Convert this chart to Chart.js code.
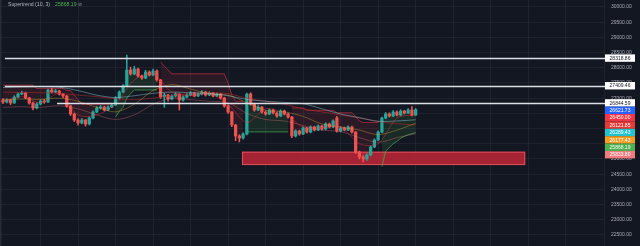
<!DOCTYPE html>
<html>
<head>
<meta charset="utf-8">
<script src="https://cdn.jsdelivr.net/npm/chart.js@4.4.1/dist/chart.umd.min.js"></script>
<style>
  html, body { margin: 0; padding: 0; background: #131722; overflow: hidden; }
  canvas { display: block; }
</style>
</head>
<body>
<canvas id="chart" width="640" height="246"></canvas>
<script>
// ---- Candles (one per bar index) ----
const opens = [
  26940,26874,26940,26841,27039,27137,27170,27006,26841,26677,
  26808,26907,26874,27269,27203,27236,27137,27072,26743,26480,
  26282,26184,26282,26151,26348,26545,26677,26710,26611,26710,
  26776,27006,27203,27401,27927,27796,27960,27730,27664,27861,
  27763,27894,27598,27039,27105,26973,27072,27137,26940,27039,
  27105,27170,27072,27137,27203,27105,27170,27072,27137,27006,
  26743,26545,26118,25756,25690,25822,27137,26808,26611,26710,
  26545,26480,26611,26513,26414,26578,26480,26381,25756,25920,
  25822,26019,25887,26052,25953,26085,25986,26151,26052,26348,
  25920,26019,25953,26052,25887,25229,25065,24999,25131,25394,
  25624,25887,26348,26480,26414,26545,26447,26578,26513,26611,
  26447
];
const highs = [
  26990,26980,26960,27080,27180,27230,27200,27030,26870,26850,
  26950,26960,27300,27330,27290,27260,27160,27090,26770,26510,
  26320,26330,26300,26380,26580,26720,26760,26740,26750,26820,
  27050,27240,27450,28421,28020,28050,27990,27760,27920,27900,
  27960,27930,27620,27160,27130,27110,27180,27150,27080,27150,
  27220,27200,27180,27250,27230,27210,27190,27170,27160,27030,
  26770,26570,26140,25800,25860,27170,27180,26840,26760,26730,
  26580,26650,26640,26540,26620,26610,26510,26400,25960,25950,
  26060,26040,26090,26080,26120,26110,26190,26180,26290,26400,
  26060,26050,26090,26080,25900,25260,25100,25170,25430,25660,
  25930,26380,26530,26520,26590,26580,26620,26600,26660,26720,
  26660
];
const lows = [
  26820,26840,26790,26830,27010,27110,26980,26800,26610,26650,
  26780,26830,26860,27170,27180,27100,27020,26700,26430,26230,
  26110,26150,26080,26120,26320,26520,26640,26580,26590,26690,
  26760,26980,27180,27380,27760,27770,27690,27620,27640,27730,
  27740,27560,26990,26700,26900,26940,27040,26610,26900,27010,
  27080,27040,27050,27110,27070,27080,27040,27050,26970,26700,
  26500,26060,25600,25560,25650,25790,26770,26570,26590,26510,
  26440,26460,26480,26370,26390,26450,26340,25700,25720,25780,
  25800,25850,25860,25920,25930,25950,25960,26020,26030,25880,
  25890,25920,25930,25850,25180,25000,24900,24950,25100,25370,
  25600,25860,26320,26380,26390,26420,26420,26480,26490,26420,
  26430
];
const closes = [
  26874,26940,26841,27039,27137,27170,27006,26841,26677,26808,
  26907,26874,27269,27203,27236,27137,27072,26743,26480,26282,
  26184,26282,26151,26348,26545,26677,26710,26611,26710,26776,
  27006,27203,27401,27927,27796,27960,27730,27664,27861,27763,
  27894,27598,27039,27105,26973,27072,27137,26940,27039,27105,
  27170,27072,27137,27203,27105,27170,27072,27137,27006,26743,
  26545,26118,25756,25690,25822,27137,26808,26611,26710,26545,
  26480,26611,26513,26414,26578,26480,26381,25756,25920,25822,
  26019,25887,26052,25953,26085,25986,26151,26052,26249,25920,
  26019,25953,26052,25887,25229,25065,24999,25131,25394,25624,
  25887,26348,26480,26414,26545,26447,26578,26513,26611,26447,
  26621.73
];

// ---- Supertrend (10, 3) per bar ----
const supertrend = [
  27430,27430,27430,27430,27430,27430,27430,27430,27430,27320,
  27320,27320,27320,27320,27320,27320,27320,27250,27250,27100,
  26950,26800,26800,26800,26800,26800,26800,26800,26800,26800,
  26380,26560,26700,27000,27150,27270,27270,27270,27270,27270,
  27270,27270,28190,28050,27930,27800,27800,27800,27800,27800,
  27800,27800,27800,27800,27800,27800,27800,27800,27800,27800,
  27500,27100,26900,26900,26900,25890,25890,25890,25890,25890,
  25890,25890,25890,25890,25890,25890,25890,26680,26680,26680,
  26680,26600,26600,26600,26600,26600,26600,26600,26600,26520,
  26520,26520,26520,26520,26400,26250,26200,26200,26200,26200,
  26200,24750,25250,25380,25500,25580,25680,25740,25800,25830,
  25868.19
];

// ---- Moving averages, sampled every 5 bars ----
const maBars   = [0,5,10,15,20,25,30,35,40,45,50,55,60,65,70,75,80,85,90,95,100,105,110];
const maFast   = [26900,27050,26850,27150,26450,26450,26800,27600,27800,27200,27080,27140,26800,26200,26650,26500,26050,26030,26050,25500,25500,26350,26450.00];
const maCyan   = [27350,27370,27380,27360,27250,27100,27020,27080,27160,27200,27180,27150,27080,26960,26900,26860,26820,26650,26480,26360,26240,26250,26289.43];
const maOrange = [26950,26970,26960,27000,26900,26700,26550,26800,27250,27450,27300,27150,27100,26850,26600,26550,26400,26150,26050,25950,25800,25950,26177.43];
const maSlow   = [27200,27190,27180,27160,27100,27050,26980,26950,27000,27080,27150,27180,27150,27000,26900,26800,26650,26550,26450,26350,26230,26160,26121.85];
const maSalmon = [26700,26720,26700,26750,26650,26450,26300,26450,26800,27000,26950,26900,26850,26500,26300,26250,26100,25950,25900,25700,25550,25700,25833.80];

// ---- Horizontal levels and demand zone ----
const levelPrices = [28318.86, 27409.46, 26844.59];
const levelFromBar = [0.5, 0.5, 14.4];
const zoneBars = [63.7, 139.2];
const zonePrices = [25240, 24800];

// ---- Right-hand price tags ----
const tagPrices = [28318.86, 27409.46, 26844.59, 26621.73, 26450.00, 26121.85, 26289.43, 26177.43, 25868.19, 25833.80];
const tagFills  = ['#ffffff','#ffffff','#ffffff','#2962ff','#f23645','#e53935','#22c3cf','#f39c22','#4caf50','#f07a7e'];

// ---- Price axis ----
const priceTicks = [22500,23000,23500,24000,24500,25000,25500,26000,26500,27000,27500,28000,28500,29000,29500,30000];
const priceMin = 22137, priceMax = 30230;
const barMin = -0.8, barMax = 160.2;

const UP = '#26a69a', DOWN = '#ef5350';
const candleColors = closes.map((c, i) => c >= opens[i] ? UP : DOWN);
const bodies = closes.map((c, i) => ({ x: i, y: [opens[i], c] }));
const wicks = closes.map((c, i) => ({ x: i, y: [lows[i], highs[i]] }));
const bodyMid = closes.map((c, i) => ({ x: i, y: (opens[i] + c) / 2 }));
const stBull = supertrend.map((v, i) => ({ x: i, y: v < closes[i] ? v : null }));
const stBear = supertrend.map((v, i) => ({ x: i, y: v > closes[i] ? v : null }));
const maPts = arr => arr.map((v, k) => ({ x: maBars[k], y: v }));

const FONT = '"Liberation Sans", Arial, sans-serif';

const background = {
  id: 'background',
  beforeDraw(chart) {
    const ctx = chart.ctx;
    ctx.save();
    ctx.fillStyle = '#131722';
    ctx.fillRect(0, 0, chart.width, chart.height);
    ctx.fillStyle = '#262a36';
    ctx.fillRect(0, 0, 1.5, chart.height);
    ctx.restore();
  }
};

const zone = {
  id: 'zone',
  beforeDatasetsDraw(chart) {
    const { ctx, scales: { x, y } } = chart;
    const x0 = x.getPixelForValue(zoneBars[0]), x1 = x.getPixelForValue(zoneBars[1]);
    const y0 = y.getPixelForValue(zonePrices[0]), y1 = y.getPixelForValue(zonePrices[1]);
    ctx.save();
    ctx.fillStyle = 'rgba(186,38,54,0.88)';
    ctx.fillRect(x0, y0, x1 - x0, y1 - y0);
    ctx.strokeStyle = 'rgba(226,84,96,0.9)';
    ctx.lineWidth = 1;
    ctx.strokeRect(x0 + 0.5, y0 + 0.5, x1 - x0 - 1, y1 - y0 - 1);
    ctx.restore();
  }
};

const levels = {
  id: 'levels',
  afterDatasetsDraw(chart) {
    const { ctx, chartArea, scales: { x, y } } = chart;
    ctx.save();
    ctx.strokeStyle = '#dcdfe6';
    ctx.lineWidth = 1.3;
    levelPrices.forEach((p, k) => {
      const py = Math.round(y.getPixelForValue(p)) + 0.5;
      ctx.beginPath();
      ctx.moveTo(x.getPixelForValue(levelFromBar[k]), py);
      ctx.lineTo(chartArea.right + 2, py);
      ctx.stroke();
    });
    ctx.restore();
  }
};

const tags = {
  id: 'tags',
  afterDraw(chart) {
    const { ctx, chartArea, scales: { y } } = chart;
    const h = 7.4, left = chartArea.right + 1, w = 30;
    let prev = -Infinity;
    ctx.save();
    ctx.font = '5px ' + FONT;
    ctx.textAlign = 'center';
    ctx.textBaseline = 'middle';
    tagPrices.forEach((p, k) => {
      let cy = y.getPixelForValue(p);
      if (cy < prev + h) cy = prev + h;
      prev = cy;
      ctx.fillStyle = tagFills[k];
      ctx.fillRect(left, cy - h / 2, w, h);
      ctx.fillStyle = tagFills[k] === '#ffffff' ? '#131722' : '#ffffff';
      ctx.fillText(p.toFixed(2), left + w / 2, cy + 0.3);
    });
    ctx.restore();
  }
};

const header = {
  id: 'header',
  afterDraw(chart) {
    const ctx = chart.ctx;
    ctx.save();
    ctx.font = '5.2px ' + FONT;
    ctx.textBaseline = 'middle';
    ctx.textAlign = 'left';
    ctx.fillStyle = '#b2b5be';
    ctx.fillText('Supertrend (10, 3)', 8, 5);
    ctx.fillStyle = '#4caf50';
    ctx.fillText(supertrend[supertrend.length - 1].toFixed(2), 55, 5);
    ctx.fillStyle = '#9598a1';
    ctx.fillText('\u2298', 78, 5);
    ctx.restore();
  }
};

const thinLine = (label, data, color, order) => ({
  type: 'line', label, data, borderColor: color, borderWidth: 0.8,
  pointRadius: 0, fill: false, order, tension: 0.3
});

new Chart(document.getElementById('chart'), {
  type: 'bar',
  data: {
    datasets: [
      { type: 'line', label: 'mid', data: bodyMid, borderColor: 'transparent', borderWidth: 0, pointRadius: 0, fill: false, order: 20 },
      { type: 'line', label: 'Supertrend up', data: stBull, borderColor: 'rgba(76,175,80,0.75)', borderWidth: 0.9, pointRadius: 0, spanGaps: false,
        fill: { target: 0 }, backgroundColor: 'rgba(76,175,80,0.13)', order: 12 },
      { type: 'line', label: 'Supertrend down', data: stBear, borderColor: 'rgba(242,54,69,0.6)', borderWidth: 0.9, pointRadius: 0, spanGaps: false,
        fill: { target: 0 }, backgroundColor: 'rgba(242,54,69,0.1)', order: 12 },
      { type: 'bar', label: 'wicks', data: wicks, backgroundColor: candleColors, barThickness: 0.9, grouped: false, borderWidth: 0, order: 10 },
      { type: 'bar', label: 'bodies', data: bodies, backgroundColor: candleColors, barThickness: 2.6, grouped: false, borderWidth: 0, order: 9 },
      thinLine('MA slow', maPts(maSlow), 'rgba(183,40,40,0.7)', 5),
      thinLine('MA salmon', maPts(maSalmon), 'rgba(247,124,128,0.4)', 5),
      thinLine('MA cyan', maPts(maCyan), 'rgba(150,215,230,0.55)', 4),
      thinLine('MA orange', maPts(maOrange), 'rgba(230,180,60,0.45)', 4),
      thinLine('MA fast', maPts(maFast), 'rgba(242,54,69,0.5)', 3)
    ]
  },
  options: {
    responsive: false,
    animation: false,
    events: [],
    layout: { padding: 0 },
    plugins: { legend: { display: false }, tooltip: { enabled: false } },
    scales: {
      x: {
        type: 'linear', min: barMin, max: barMax, offset: false,
        grid: { color: 'rgba(42,46,57,0.55)', drawTicks: false, offset: false },
        border: { display: false },
        ticks: { display: false, stepSize: 10 },
        afterFit(s) { s.height = 0; s.paddingLeft = 0; s.paddingRight = 0; }
      },
      y: {
        position: 'right', min: priceMin, max: priceMax,
        grid: { color: 'rgba(42,46,57,0.5)', drawTicks: false },
        border: { display: false },
        ticks: {
          autoSkip: false, padding: 7, crossAlign: 'near',
          color: '#a9acb5', font: { size: 5, family: FONT },
          callback: v => Number(v).toFixed(2)
        },
        afterBuildTicks(s) { s.ticks = priceTicks.map(v => ({ value: v })); },
        afterFit(s) { s.width = 36; s.paddingTop = 0; s.paddingBottom = 0; }
      }
    }
  },
  plugins: [background, zone, levels, tags, header]
});
</script>
</body>
</html>
